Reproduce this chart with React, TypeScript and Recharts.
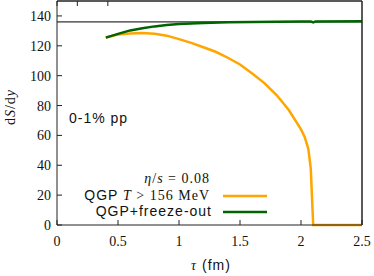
import React from "react";
import {
  LineChart,
  Line,
  XAxis,
  YAxis,
  ReferenceLine,
} from "recharts";

// tau (fm) and dS/dy
const qgpTau = [0.4, 0.5, 0.6, 0.7, 0.8, 0.9, 1.0, 1.1, 1.2, 1.3, 1.4, 1.5, 1.6, 1.7, 1.8, 1.9, 2.0, 2.03, 2.06, 2.08, 2.1, 2.5];
const qgpS = [125.5, 127.5, 128.3, 128.5, 128, 126.8, 124.5, 122, 119, 116, 112, 107.5, 101.5, 95, 87, 77, 64, 59, 51, 38, 0, 0];

const totTau = [0.4, 0.5, 0.6, 0.7, 0.8, 0.9, 1.0, 1.2, 1.4, 1.6, 1.8, 2.0, 2.08, 2.1, 2.12, 2.5];
const totS = [125.5, 128, 130.3, 131.8, 133, 134, 134.6, 135.3, 135.8, 136, 136.1, 136.2, 136.3, 135.6, 136.3, 136.5];

const initialS = 136;
const xMax = 2.5;
const yMax = 150;
const xTicks = [0, 0.5, 1, 1.5, 2, 2.5];
const yTicks = [0, 20, 40, 60, 80, 100, 120, 140];

const qgpData = qgpTau.map((t, i) => ({ t, s: qgpS[i] }));
const totData = totTau.map((t, i) => ({ t, s: totS[i] }));

const SERIF = "Liberation Serif";
const SANS = "Liberation Sans";
const FRAME = "#222";
const TICK = 5;

const tickStyle = { fontSize: 14, fill: "#111" };

// mirrored gnuplot ticks on the top and right borders
function TopTick(props: any) {
  const { x, y } = props;
  return <line x1={x} x2={x} y1={y} y2={y + TICK} stroke={FRAME} />;
}

function RightTick(props: any) {
  const { x, y } = props;
  return <line x1={x} x2={x - TICK} y1={y} y2={y} stroke={FRAME} />;
}

export default function App() {
  return (
    <div style={{ position: "absolute", left: 0, top: 0, width: 374, height: 276, background: "#fff", fontFamily: SERIF }}>
      <LineChart width={374} height={276} data={totData} margin={{ top: 0, right: 11, bottom: 0, left: 0 }}>
        <XAxis
          dataKey="t"
          type="number"
          domain={[0, xMax]}
          ticks={xTicks}
          height={51}
          tickSize={-TICK}
          tickMargin={16}
          tick={tickStyle}
          axisLine={{ stroke: FRAME }}
          tickLine={{ stroke: FRAME }}
          tickFormatter={(v: number) => `${v}`}
        />
        <XAxis
          xAxisId="top"
          orientation="top"
          type="number"
          domain={[0, xMax]}
          ticks={xTicks}
          height={1}
          tickSize={0}
          tickMargin={0}
          tickLine={false}
          tick={<TopTick />}
          axisLine={{ stroke: FRAME }}
        />
        <YAxis
          type="number"
          domain={[0, yMax]}
          ticks={yTicks}
          width={57}
          tickSize={-TICK}
          tickMargin={11}
          tick={tickStyle}
          axisLine={{ stroke: FRAME }}
          tickLine={{ stroke: FRAME }}
        />
        <YAxis
          yAxisId="right"
          orientation="right"
          type="number"
          domain={[0, yMax]}
          ticks={yTicks}
          width={1}
          tickSize={0}
          tickMargin={0}
          tickLine={false}
          tick={<RightTick />}
          axisLine={{ stroke: FRAME }}
        />
        <ReferenceLine y={yMax} stroke={FRAME} ifOverflow="extendDomain" />
        <ReferenceLine x={xMax} stroke={FRAME} ifOverflow="extendDomain" />
        <ReferenceLine y={initialS} stroke="#000" strokeWidth={1} />
        <Line data={qgpData} dataKey="s" stroke="#FFA500" strokeWidth={2.5} dot={false} isAnimationActive={false} />
        <Line data={totData} dataKey="s" stroke="#006400" strokeWidth={2.5} dot={false} isAnimationActive={false} />
      </LineChart>
      <svg width={374} height={276} style={{ position: "absolute", left: 0, top: 0, pointerEvents: "none" }}>
        <text transform="translate(15,107) rotate(-90)" textAnchor="middle" fontFamily={SERIF} fontSize={14} fill="#111" letterSpacing={1}>
          d<tspan fontStyle="italic">S</tspan>/d<tspan fontStyle="italic">y</tspan>
        </text>
        <text x={211} y={270} textAnchor="middle" fontSize={14} fill="#111" letterSpacing={1}>
          <tspan fontFamily={SERIF} fontStyle="italic">τ</tspan>
          <tspan fontFamily={SANS}> (fm)</tspan>
        </text>
        <text x={69} y={123} fontFamily={SANS} fontSize={14} fill="#111" letterSpacing={1}>
          0-1% pp
        </text>
        <text x={210} y={183} textAnchor="end" fontFamily={SERIF} fontSize={14} fill="#111" letterSpacing={1}>
          <tspan fontStyle="italic">η</tspan>/<tspan fontStyle="italic">s</tspan> = 0.08
        </text>
        <text x={210} y={200} textAnchor="end" fontSize={14} fill="#111" letterSpacing={1}>
          <tspan fontFamily={SANS}>QGP </tspan>
          <tspan fontFamily={SERIF} fontStyle="italic">T</tspan>
          <tspan fontFamily={SERIF}> &gt; 156 MeV</tspan>
        </text>
        <text x={212} y={216} textAnchor="end" fontFamily={SANS} fontSize={14} fill="#111" letterSpacing={1}>
          QGP+freeze-out
        </text>
        <line x1={223} x2={267} y1={196} y2={196} stroke="#FFA500" strokeWidth={2.5} />
        <line x1={223} x2={267} y1={212} y2={212} stroke="#006400" strokeWidth={2.5} />
      </svg>
    </div>
  );
}
